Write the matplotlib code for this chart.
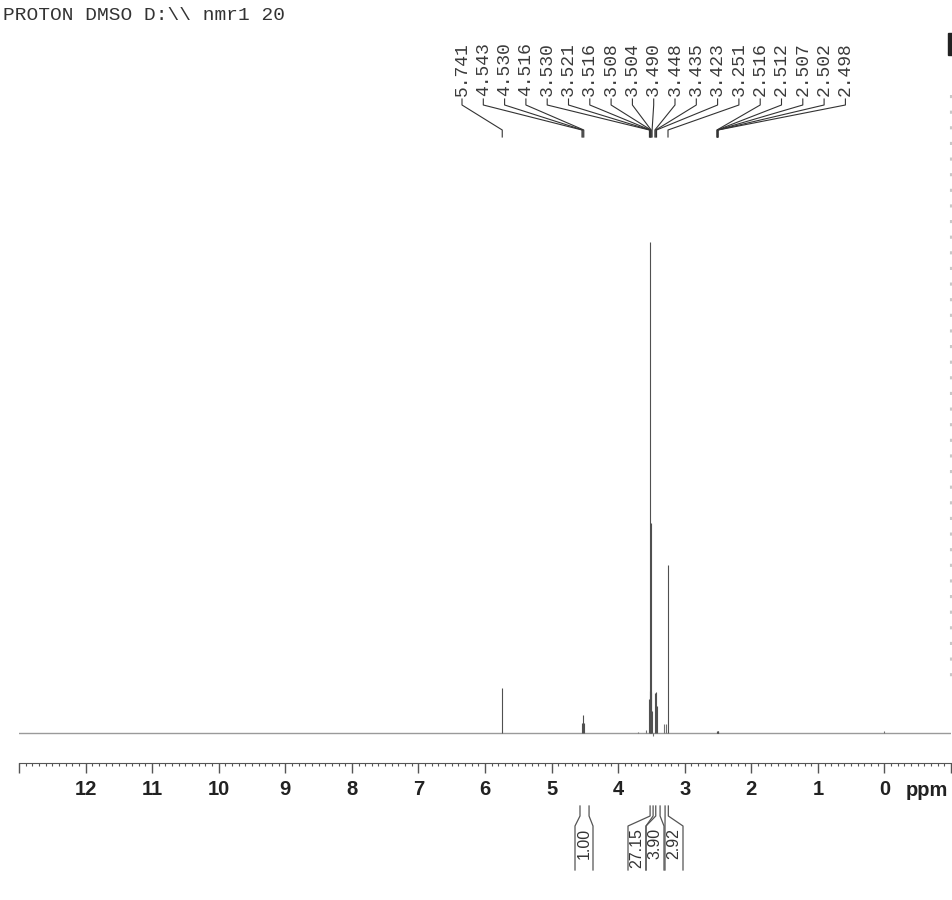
"""1H NMR spectrum (DMSO) rebuilt as a static PNG with matplotlib."""
import matplotlib

matplotlib.use("Agg")
import matplotlib.pyplot as plt  # noqa: E402
from matplotlib.patches import Rectangle  # noqa: E402
from matplotlib.ticker import MultipleLocator  # noqa: E402

W, H, DPI = 953, 900, 100

title = "PROTON DMSO D:\\\\ nmr1 20"

# labelled peaks: shift (ppm) and relative height (tallest = 100)
peak_ppm = [5.741, 4.543, 4.530, 4.516, 3.530, 3.521, 3.516, 3.508, 3.504,
            3.490, 3.448, 3.435, 3.423, 3.251, 2.516, 2.512, 2.507, 2.502, 2.498]
peak_height = [9.2, 2.0, 3.7, 2.0, 7.0, 8.6, 100.0, 42.8, 8.3,
               4.5, 8.2, 8.4, 5.5, 34.2, 0.2, 0.4, 0.5, 0.4, 0.2]

# small unlabelled signals
minor_ppm = [3.700, 3.586, 3.306, 3.285, 3.470, 0.000]
minor_height = [0.3, 0.6, 1.8, 1.8, -0.6, 0.4]

tick_ppm = list(range(13, -2, -1))
tick_labels = ["" if t in (13, -1) else str(t) for t in tick_ppm]

# integrals: region (ppm from, ppm to) and value
integral_ranges = [(4.573, 4.437), (3.520, 3.475), (3.435, 3.370), (3.295, 3.246)]
integral_values = ["1.00", "27.15", "3.90", "2.92"]

INK = "#333333"

fig = plt.figure(figsize=(W / DPI, H / DPI), dpi=DPI)

# main spectrum axes (pixel layout: x 19..951, bottom spine at row 763)
ax_top, ax_bot = 150, 763
ax = fig.add_axes([19 / W, 1 - ax_bot / H, 932 / W, (ax_bot - ax_top) / H])
px_per_unit = 491 / 100  # tallest peak is 491 px above the baseline
ax.set_xlim(13, -1)
ax.set_ylim(-30 / px_per_unit, (ax_bot - ax_top - 30) / px_per_unit)
ax.patch.set_visible(False)

ax.axhline(0, color="#9a9a9a", lw=1)
ax.vlines(peak_ppm, 0, peak_height, color="#505050", lw=0.8)
ax.vlines(minor_ppm, 0, minor_height, color="#707070", lw=0.8)

for side in ("top", "left", "right"):
    ax.spines[side].set_visible(False)
ax.spines["bottom"].set_color("#555555")
ax.set_yticks([])
ax.set_xticks(tick_ppm)
ax.set_xticklabels(tick_labels, fontfamily="Liberation Sans", fontweight="bold",
                   fontsize=14.5, color="#222222")
ax.xaxis.set_minor_locator(MultipleLocator(0.1))
ax.tick_params(axis="x", which="major", length=7.5, width=1, color="#555555", pad=5)
ax.tick_params(axis="x", which="minor", length=2.5, width=0.8, color="#555555")

# overlay in pixel coordinates for the annotations
ov = fig.add_axes([0, 0, 1, 1])
ov.set_xlim(0, W)
ov.set_ylim(H, 0)
ov.axis("off")


def ppm_px(p):
    return ax.transData.transform((p, 0))[0]


ov.text(3, 7, title, ha="left", va="top", family="Liberation Mono",
        fontsize=14, color=INK)

# peak pick labels with their leader lines
label_x0, label_dx = 462, 21.3
for i, p in enumerate(peak_ppm):
    lx = label_x0 + i * label_dx
    px = ppm_px(p)
    ov.text(lx, 96, f"{p:.3f}", rotation=90, ha="center", va="bottom",
            family="Liberation Mono", fontsize=13, color="#3a3a3a")
    ov.plot([lx, lx, px, px], [99, 105, 130, 137], color=INK, lw=0.8)

ov.text(927, 791, "ppm", ha="center", va="center", family="Liberation Sans",
        fontweight="bold", fontsize=14.5, color="#222222")

# integral brackets under the axis (values hang from the top of the box)
box_centers = [584, 637, 655, 674]
half = 9
for (a, b), val, c in zip(integral_ranges, integral_values, box_centers):
    xa, xb = ppm_px(a), ppm_px(b)
    ov.plot([xa, xa, c - half, c - half], [806, 816, 826, 870], color="#555555", lw=0.9)
    ov.plot([xb, xb, c + half, c + half], [806, 816, 826, 870], color="#555555", lw=0.9)
    ov.text(c, 828, val, rotation=90, ha="center", va="top",
            family="Liberation Sans", fontsize=11.5, color=INK)

# scan artefacts at the right edge
ov.add_patch(Rectangle((948, 33), 4, 22, color="#222222"))
ov.plot([951, 951], [95, 680], color="#c8c8c8", lw=1.5, dashes=(1.5, 6))

fig.savefig("out.png", dpi=DPI)
plt.close(fig)
